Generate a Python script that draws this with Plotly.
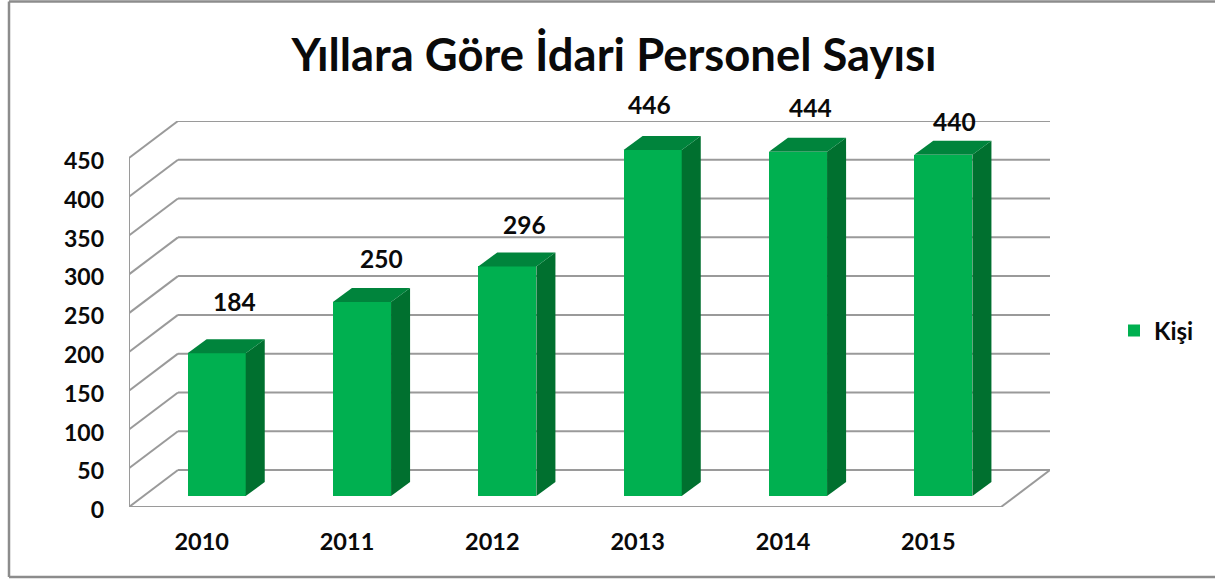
import plotly.graph_objects as go

years = ["2010", "2011", "2012", "2013", "2014", "2015"]
staff = [184, 250, 296, 446, 444, 440]
y_ticks = [0, 50, 100, 150, 200, 250, 300, 350, 400, 450]

# geometry, in axis units
BAR_W = 0.40
WALL_DX, WALL_DY = 0.337, 47.7
BAR_DX, BAR_DY = 0.103, 14.2
SIDE_DX, SIDE_DY = 0.131, 18.05
# hand-placed data labels: x offset in axis units, y offset in pixels above the bar front top
LABEL_DX = [0.124, 0.131, 0.117, -0.02, 0.083, 0.076]
LABEL_DY = [52, 44, 42, 46, 44, 33]

GREEN, SIDE, TOP = "#00B050", "#00702F", "#00843C"
GRID = "#9A9A9A"
FONT = "Lato"
INK = "#0A0A0A"

xs = list(range(len(years)))
fig = go.Figure()

fig.add_bar(
    x=[i + BAR_DX for i in xs], y=staff, base=[BAR_DY] * len(xs), width=BAR_W,
    marker=dict(color=GREEN, line=dict(width=0)), name="Kişi", showlegend=True,
)

for i, v in zip(xs, staff):
    x0 = i + BAR_DX - BAR_W / 2
    x1 = i + BAR_DX + BAR_W / 2
    y0, y1 = BAR_DY, BAR_DY + v
    fig.add_scatter(
        x=[x1, x1 + SIDE_DX, x1 + SIDE_DX, x1, x1], y=[y0, y0 + SIDE_DY, y1 + SIDE_DY, y1, y0],
        mode="lines", fill="toself", fillcolor=SIDE, line=dict(width=0, color=SIDE),
        showlegend=False, hoverinfo="skip",
    )
    fig.add_scatter(
        x=[x0, x1, x1 + SIDE_DX, x0 + SIDE_DX, x0], y=[y1, y1, y1 + SIDE_DY, y1 + SIDE_DY, y1],
        mode="lines", fill="toself", fillcolor=TOP, line=dict(width=0, color=TOP),
        showlegend=False, hoverinfo="skip",
    )

annotations = [
    dict(x=i + BAR_DX + dx, y=BAR_DY + v, xref="x", yref="y", yshift=dy, text=str(v), showarrow=False,
         xanchor="center", yanchor="middle", font=dict(family=FONT, size=24.5, color=INK, weight="bold"))
    for i, v, dx, dy in zip(xs, staff, LABEL_DX, LABEL_DY)
]

left, right = -0.5, len(years) - 0.5
shapes = []
line = dict(color=GRID, width=2)
for t in y_ticks:
    # side wall diagonal and back wall line
    if t > 0:
        shapes.append(dict(type="line", xref="x", yref="y", layer="below", x0=left, y0=t,
                           x1=left + WALL_DX, y1=t + WALL_DY, line=line))
    shapes.append(dict(type="line", xref="x", yref="y", layer="below", x0=left + WALL_DX, y0=t + WALL_DY,
                       x1=right + WALL_DX, y1=t + WALL_DY, line=line))
# floor and front axis lines
for a, b, c, d in [
    (left, 0, left + WALL_DX, WALL_DY),
    (right, 0, right + WALL_DX, WALL_DY),
    (left, 0, right, 0),
    (left, 0, left, y_ticks[-1]),
]:
    shapes.append(dict(type="line", xref="x", yref="y", layer="below", x0=a, y0=b, x1=c, y1=d, line=line))
# outer frame of the picture
frame = dict(color="#8C8C8C", width=2.5)
for a, b, c, d in [(9, 577.5, 1260, 577.5), (9, 577.5, 9, 2), (9, 2, 1260, 2)]:
    shapes.append(dict(type="line", xref="paper", yref="paper", x0=(a - 129) / 921, x1=(c - 129) / 921,
                       y0=(b - 72) / 386, y1=(d - 72) / 386, line=frame, layer="below"))

fig.update_layout(
    width=1215, height=579, margin=dict(l=129, r=165, t=121, b=72, autoexpand=False),
    paper_bgcolor="white", plot_bgcolor="white", shapes=shapes, annotations=annotations, bargap=0,
    font=dict(family=FONT, color=INK),
    title=dict(text="Yıllara Göre İdari Personel Sayısı", x=614 / 1215, xanchor="center",
               y=1 - 55 / 579, yanchor="middle",
               font=dict(family=FONT, size=45.4, color=INK, weight="bold")),
    legend=dict(x=(1114 - 129) / 921, y=(507 - 331) / 386, xanchor="left", yanchor="middle",
                font=dict(family=FONT, size=24, color=INK, weight="bold"),
                bgcolor="rgba(0,0,0,0)", itemwidth=30),
    xaxis=dict(range=[left, right + WALL_DX], tickmode="array", tickvals=xs, ticktext=years,
               showgrid=False, zeroline=False, showline=False, ticks="", ticklabelstandoff=18,
               tickfont=dict(family=FONT, size=23.5, color=INK, weight="bold")),
    yaxis=dict(range=[0, y_ticks[-1] + WALL_DY], tickmode="array", tickvals=y_ticks,
               showgrid=False, zeroline=False, showline=False, ticks="", ticklabelstandoff=24,
               ticklabelshift=3,
               tickfont=dict(family=FONT, size=23, color=INK, weight="bold")),
)

fig.write_html("out.html", config=dict(displayModeBar=False),
               post_script="document.body.style.margin='0';document.body.style.overflow='hidden';")
